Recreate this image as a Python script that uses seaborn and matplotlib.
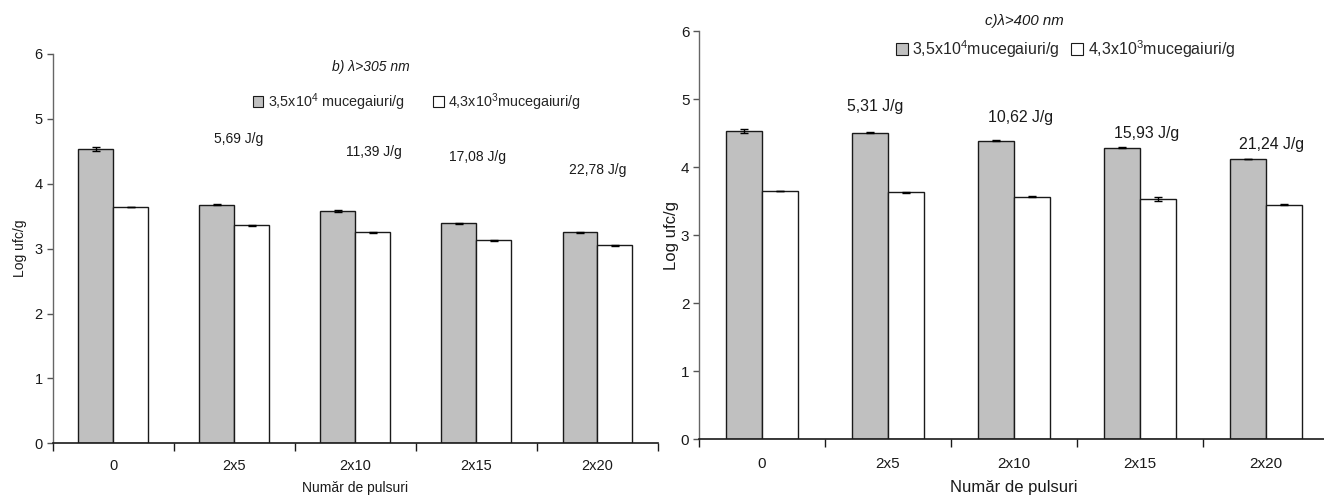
import matplotlib
matplotlib.use("Agg")
import matplotlib.pyplot as plt
from matplotlib.ticker import FixedLocator
import seaborn as sns
import pandas as pd

# Pulse counts on the x axis
categories = ["0", "2x5", "2x10", "2x15", "2x20"]
series_names = ["3,5x10$^4$ mucegaiuri/g", "4,3x10$^3$mucegaiuri/g"]
series_names_c = ["3,5x10$^4$mucegaiuri/g", "4,3x10$^3$mucegaiuri/g"]

# Panel b) lambda > 305 nm
b_high = [4.54, 3.68, 3.58, 3.39, 3.25]
b_low = [3.64, 3.36, 3.25, 3.13, 3.05]
b_high_err = [0.03, 0.01, 0.01, 0.01, 0.01]
b_low_err = [0.005, 0.005, 0.003, 0.005, 0.01]
b_doses = ["5,69 J/g", "11,39 J/g", "17,08 J/g", "22,78 J/g"]

# Panel c) lambda > 400 nm
c_high = [4.54, 4.51, 4.39, 4.29, 4.12]
c_low = [3.65, 3.63, 3.57, 3.53, 3.45]
c_high_err = [0.03, 0.01, 0.01, 0.01, 0.005]
c_low_err = [0.005, 0.003, 0.005, 0.03, 0.01]
c_doses = ["5,31 J/g", "10,62 J/g", "15,93 J/g", "21,24 J/g"]

sns.set_style("white")
plt.rcParams["font.family"] = ["Liberation Sans", "DejaVu Sans"]
plt.rcParams["mathtext.fontset"] = "custom"
plt.rcParams["mathtext.rm"] = "Liberation Sans"
plt.rcParams["mathtext.it"] = "Liberation Sans:italic"

fig = plt.figure(figsize=(13.24, 4.98), dpi=100)
ax_b = fig.add_axes([0.0397, 0.1098, 0.4573, 0.7818])
ax_c = fig.add_axes([0.528, 0.1179, 0.4758, 0.8192])

GRAY = "#C0C0C0"


def draw_panel(ax, high, low, high_err, low_err, names, fs_tick, fs_label,
               tick_pad, xlabel_pad, ylabel_x):
    df = pd.DataFrame({
        "puls": categories * 2,
        "val": high + low,
        "serie": [names[0]] * len(categories) + [names[1]] * len(categories),
    })
    sns.barplot(data=df, x="puls", y="val", hue="serie", order=categories,
                hue_order=names, palette=[GRAY, "white"], width=0.577,
                edgecolor="#1a1a1a", linewidth=1.0, errorbar=None,
                legend=False, ax=ax)
    for cont, errs in zip(ax.containers, [high_err, low_err]):
        xs = [p.get_x() + p.get_width() / 2 for p in cont.patches]
        ys = [p.get_height() for p in cont.patches]
        ax.errorbar(xs, ys, yerr=errs, fmt="none", ecolor="black",
                    elinewidth=1.0, capsize=3, capthick=1.0, zorder=5)

    ax.set_xlim(-0.5, len(categories) - 0.5)
    ax.set_ylim(0, 6)
    ax.set_yticks(range(0, 7))
    ax.set_xticks(range(len(categories)))
    ax.set_xticklabels(categories)
    ax.xaxis.set_minor_locator(FixedLocator([i - 0.5 for i in range(len(categories) + 1)]))
    ax.tick_params(axis="x", which="major", length=0, pad=tick_pad,
                   labelsize=fs_tick, labelcolor="#1a1a1a")
    ax.tick_params(axis="x", which="minor", length=6, width=1.0,
                   direction="out", color="#1a1a1a", bottom=True)
    ax.tick_params(axis="y", length=4, width=1.0, direction="out",
                   color="#555555", left=True, pad=3, labelsize=fs_tick,
                   labelcolor="#1a1a1a")
    for side in ("top", "right"):
        ax.spines[side].set_visible(False)
    ax.spines["left"].set_color("#666666")
    ax.spines["bottom"].set_color("#1a1a1a")
    ax.spines["left"].set_linewidth(1.0)
    ax.spines["bottom"].set_linewidth(1.2)
    ax.set_xlabel("Număr de pulsuri", fontsize=fs_label, labelpad=xlabel_pad,
                  color="#1a1a1a")
    ax.set_ylabel("Log ufc/g", fontsize=fs_label, color="#1a1a1a")
    ax.yaxis.set_label_coords(ylabel_x, 0.5)
    ax.set_facecolor("white")


draw_panel(ax_b, b_high, b_low, b_high_err, b_low_err, series_names,
           fs_tick=10.5, fs_label=10, tick_pad=11, xlabel_pad=6,
           ylabel_x=-0.042)
draw_panel(ax_c, c_high, c_low, c_high_err, c_low_err, series_names_c,
           fs_tick=11, fs_label=12, tick_pad=13, xlabel_pad=6,
           ylabel_x=-0.032)

# Dose annotations above the pulse groups
b_dose_pos = [(1.04, 4.69), (2.15, 4.49), (3.01, 4.42), (4.0, 4.21)]
for txt, (x, y) in zip(b_doses, b_dose_pos):
    ax_b.text(x, y, txt, ha="center", va="center", fontsize=10, color="#1a1a1a")
c_dose_pos = [(0.90, 4.89), (2.05, 4.73), (3.05, 4.49), (4.04, 4.34)]
for txt, (x, y) in zip(c_doses, c_dose_pos):
    ax_c.text(x, y, txt, ha="center", va="center", fontsize=11.4, color="#1a1a1a")

# Panel titles
ax_b.text(2.13, 5.80, "b) λ>305 nm", ha="center", va="center",
          fontsize=10, style="italic", color="#1a1a1a")
fig.text(1024 / 1324, 1 - 20.7 / 498, "c)λ>400 nm", ha="center", va="center",
         fontsize=10.8, style="italic", color="#1a1a1a")

# Legends
from matplotlib.patches import Patch


def add_legend(names, anchor, fs, colspace):
    handles = [Patch(facecolor=GRAY, edgecolor="#1a1a1a", linewidth=0.8),
               Patch(facecolor="white", edgecolor="#1a1a1a", linewidth=0.8)]
    fig.legend(handles, names, loc="center left", bbox_to_anchor=anchor,
               ncol=2, frameon=False, fontsize=fs, handlelength=0.75,
               handleheight=0.75, handletextpad=0.3, columnspacing=colspace,
               borderpad=0, borderaxespad=0)


add_legend(series_names, (252.5 / 1324, 1 - 101.7 / 498), 10.4, 2.0)
add_legend(series_names_c, (895.7 / 1324, 1 - 49 / 498), 11.5, 0.7)

fig.savefig("out.png", dpi=100, facecolor="white")
